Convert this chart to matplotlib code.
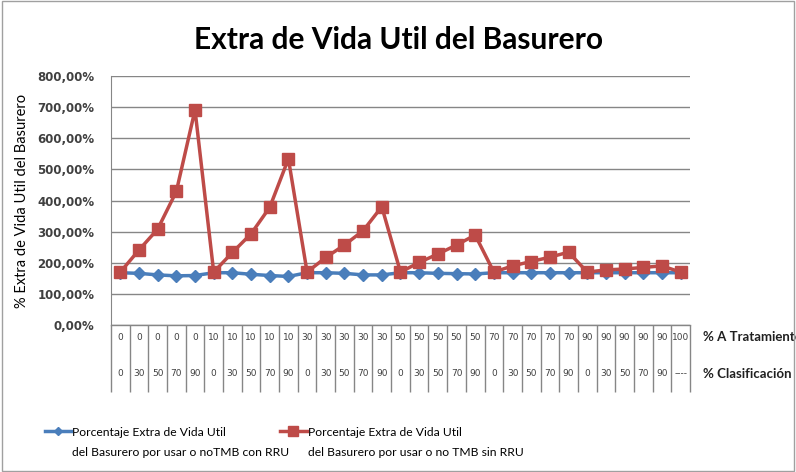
import numpy as np
import matplotlib.pyplot as plt
from matplotlib.patches import Rectangle

# Data
tratamiento = ['0'] * 5 + ['10'] * 5 + ['30'] * 5 + ['50'] * 5 + ['70'] * 5 + ['90'] * 5 + ['100']
clasificacion = ['0', '30', '50', '70', '90'] * 6 + ['----']
con_rru = [1.68, 1.66, 1.61, 1.58, 1.59,
           1.68, 1.68, 1.63, 1.59, 1.56,
           1.68, 1.68, 1.66, 1.61, 1.61,
           1.68, 1.68, 1.66, 1.65, 1.64,
           1.68, 1.68, 1.68, 1.68, 1.68,
           1.68, 1.68, 1.68, 1.68, 1.68,
           1.68]
sin_rru = [1.70, 2.41, 3.08, 4.29, 6.91,
           1.70, 2.33, 2.93, 3.78, 5.34,
           1.70, 2.17, 2.57, 3.03, 3.80,
           1.70, 2.01, 2.28, 2.57, 2.89,
           1.70, 1.90, 2.04, 2.18, 2.34,
           1.70, 1.77, 1.80, 1.85, 1.90,
           1.70]
labels = [('Porcentaje Extra de Vida Util', 'del Basurero por usar o noTMB con RRU'),
          ('Porcentaje Extra de Vida Util', 'del Basurero por usar o no TMB sin RRU')]

blue = '#4a7ebb'
red = '#be4b48'
grey = '#868686'

fig = plt.figure(figsize=(7.96, 4.72), dpi=100)
ax = fig.add_axes([0.1394, 0.3114, 0.7274, 0.5276])

x = np.arange(len(con_rru))
l1, = ax.plot(x, con_rru, color=blue, lw=2.5, marker='D', ms=6, zorder=3)
l2, = ax.plot(x, sin_rru, color=red, lw=2.5, marker='s', ms=9, zorder=3)

ax.set_xlim(-0.5, len(x) - 0.5)
ax.set_ylim(0, 8)
ax.set_yticks(np.arange(0, 9))
ax.set_yticklabels([f'{v * 100:.2f}%'.replace('.', ',') for v in range(9)],
                   fontsize=8.5, fontweight='bold', color='#404040')
ax.set_xticks([])
ax.tick_params(axis='y', length=0, pad=12)
ax.grid(axis='y', color=grey, lw=1)
ax.set_axisbelow(True)
for s in ['top', 'right', 'bottom']:
    ax.spines[s].set_visible(False)
ax.spines['left'].set_color(grey)

# table under the axis
trans = ax.get_xaxis_transform()
ax.plot([-0.5, len(x) - 0.5], [0, 0], color=grey, lw=1, transform=trans, clip_on=False)
ax.vlines(np.arange(len(x) + 1) - 0.5, -0.27, 0, color=grey, lw=1,
          transform=trans, clip_on=False)
for i in x:
    ax.text(i, -0.05, tratamiento[i], transform=trans, ha='center', va='center',
            fontsize=6.5, color='#404040')
    ax.text(i, -0.195, clasificacion[i], transform=trans, ha='center', va='center',
            fontsize=6.5, color='#404040')
ax.text(len(x) + 0.2, -0.05, '% A Tratamiento', transform=trans, ha='left', va='center',
        fontsize=9.5, fontweight='bold', family='Lato', color='#202020')
ax.text(len(x) + 0.2, -0.195, '% Clasificación', transform=trans, ha='left', va='center',
        fontsize=9.5, fontweight='bold', family='Lato', color='#202020')

fig.text(0.5, 0.915, 'Extra de Vida Util del Basurero', ha='center', va='center',
         fontsize=21.5, fontweight='bold', family='Lato')
fig.text(0.028, 0.575, '% Extra de Vida Util del Basurero', rotation=90, ha='center',
         va='center', fontsize=10.5, family='Lato')

# legend: handle beside first line, second line underneath
legs = []
for line, lab, x0 in [(l1, labels[0], 0.056), (l2, labels[1], 0.352)]:
    leg = fig.legend(handles=[line], labels=[lab[0]], loc='center left',
                     bbox_to_anchor=(x0, 1 - 432 / 472), frameon=False,
                     prop={'family': 'Lato', 'size': 8.7}, handlelength=2.2,
                     handletextpad=0.1, borderpad=0, borderaxespad=0,
                     markerscale=0.75)
    legs.append((leg, lab[1]))

fig.canvas.draw()
renderer = fig.canvas.get_renderer()
for leg, second in legs:
    bb = leg.get_texts()[0].get_window_extent(renderer)
    fig.text(bb.x0 / fig.bbox.width, 1 - 453 / 472, second, ha='left', va='center',
             family='Lato', fontsize=8.7)

fig.patches.append(Rectangle((0.003, 0.003), 0.994, 0.994, transform=fig.transFigure,
                             fill=False, ec='#a0a0a0', lw=1))

fig.savefig('out.png', dpi=100)
